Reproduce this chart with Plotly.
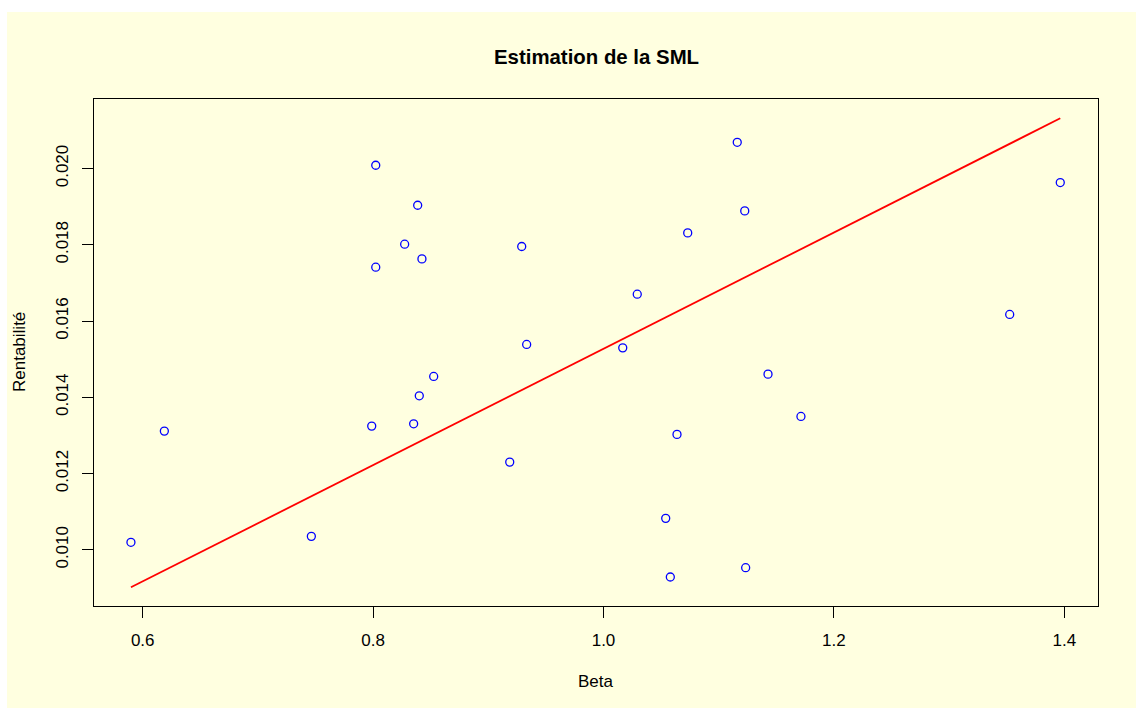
import plotly.graph_objects as go

# Data
beta = [0.5898, 0.6188, 0.7464, 0.7988, 0.8023, 0.8023, 0.8274, 0.8352, 0.8387, 0.8401,
        0.8424, 0.8526, 0.9186, 0.9290, 0.9333, 1.0167, 1.0293, 1.0540, 1.0580, 1.0638,
        1.0731, 1.1161, 1.1226, 1.1234, 1.1428, 1.1714, 1.3526, 1.3965]
rentabilite = [0.010197, 0.013114, 0.010354, 0.013245, 0.020087, 0.017413, 0.018016, 0.013305,
               0.019038, 0.014039, 0.017630, 0.014548, 0.012301, 0.017955, 0.015387, 0.015297,
               0.016705, 0.010826, 0.009287, 0.013028, 0.018312, 0.020689, 0.018889, 0.009531,
               0.014608, 0.013499, 0.016173, 0.019633]
# Fitted SML line (endpoints at min and max beta)
sml_beta = [0.5898, 1.3965]
sml_fit = [0.009017, 0.021318]

x_ticks = [0.6, 0.8, 1.0, 1.2, 1.4]
y_ticks = [0.010, 0.012, 0.014, 0.016, 0.018, 0.020]

W, H = 1136, 708
L, R, T, B = 94, 38, 99, 102
pw, ph = W - L - R, H - T - B
BG = "#FFFFE0"
FONT = "Liberation Sans, Arial, sans-serif"

def px2x(px):
    return (px - L) / pw

def py2y(py):
    return (H - B - py) / ph

fig = go.Figure()
fig.add_trace(go.Scatter(x=beta, y=rentabilite, mode="markers",
                         marker=dict(symbol="circle-open", size=8, color="blue",
                                     line=dict(width=1.3, color="blue")),
                         showlegend=False))
fig.add_trace(go.Scatter(x=sml_beta, y=sml_fit, mode="lines",
                         line=dict(color="red", width=1.8), showlegend=False))

axis_common = dict(showgrid=False, zeroline=False, showline=True, mirror=True,
                   linecolor="black", linewidth=1, ticks="outside", ticklen=11,
                   tickcolor="black", tickwidth=1,
                   tickfont=dict(family=FONT, size=17, color="black"))

fig.update_xaxes(range=[0.55773, 1.42925], tickvals=x_ticks, tickformat=".1f",
                 ticklabelstandoff=8, **axis_common)
fig.update_yaxes(range=[0.008527, 0.021824], tickvals=y_ticks, tickformat=".3f",
                 tickangle=-90, ticklabelstandoff=7, **axis_common)

fig.add_shape(type="rect", xref="paper", yref="paper",
              x0=px2x(7), x1=px2x(W), y0=py2y(H), y1=py2y(12),
              fillcolor=BG, line=dict(width=0), layer="below")

fig.add_annotation(text="<b>Estimation de la SML</b>", xref="paper", yref="paper",
                   x=px2x(596), y=py2y(57), showarrow=False,
                   font=dict(family=FONT, size=20.4, color="black"),
                   xanchor="center", yanchor="middle")
fig.add_annotation(text="Beta", xref="paper", yref="paper",
                   x=px2x(596), y=py2y(682), showarrow=False,
                   font=dict(family=FONT, size=17, color="black"),
                   xanchor="center", yanchor="middle")
fig.add_annotation(text="Rentabilité", xref="paper", yref="paper",
                   x=px2x(19), y=py2y(352), showarrow=False, textangle=-90,
                   font=dict(family=FONT, size=17, color="black"),
                   xanchor="center", yanchor="middle")

fig.update_layout(width=W, height=H, margin=dict(l=L, r=R, t=T, b=B, pad=0),
                  paper_bgcolor="white", plot_bgcolor=BG,
                  font=dict(family=FONT, color="black"))

fig.write_html("out.html")
